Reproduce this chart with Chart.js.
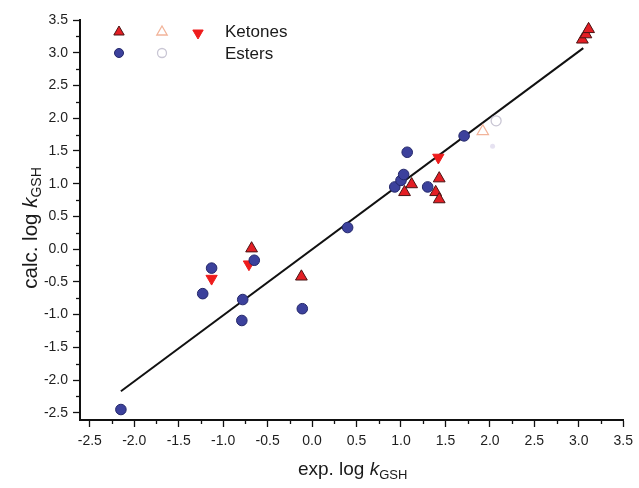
<!DOCTYPE html>
<html>
<head>
<meta charset="utf-8">
<script src="https://cdn.jsdelivr.net/npm/chart.js@4/dist/chart.umd.min.js"></script>
<style>
html,body{margin:0;padding:0;background:#fff;}
#wrap{width:639px;height:488px;position:relative;}
</style>
</head>
<body>
<div id="wrap"><canvas id="c" width="639" height="488"></canvas></div>
<script>
// ---- data ----
const ketX   = [-0.68, -0.12, 1.04, 1.12, 1.43, 1.39, 1.43, 3.04, 3.08, 3.11];
const ketY   = [ 0.01, -0.42, 0.87, 0.99, 1.08, 0.87, 0.76, 3.20, 3.28, 3.36];
const ketOpenX = [1.92];
const ketOpenY = [1.80];
const ketDownX = [-1.13, -0.71, 1.42];
const ketDownY = [-0.45, -0.23, 1.40];
const estX   = [-2.15, -1.23, -1.13, -0.78, -0.79, -0.65, -0.11, 0.40, 0.93, 1.00, 1.03, 1.07, 1.30, 1.71];
const estY   = [-2.45, -0.68, -0.29, -0.77, -1.09, -0.17, -0.91, 0.33, 0.95, 1.05, 1.14, 1.48, 0.95, 1.73];
const estOpenX = [2.07];
const estOpenY = [1.96];
const faintX = [2.03];
const faintY = [1.57];
const fitX = [-2.15, 3.05];
const fitY = [-2.17, 3.07];
const tickValues = [-2.5, -2.0, -1.5, -1.0, -0.5, 0.0, 0.5, 1.0, 1.5, 2.0, 2.5, 3.0, 3.5];
const legendLabels = ['Ketones', 'Esters'];

const pts = (xs, ys) => xs.map((x, i) => ({x: x, y: ys[i]}));
const FONT = "'Liberation Sans', Arial, sans-serif";

const datasets = [
  {label:'fit', type:'line', data:pts(fitX, fitY), borderColor:'#111', borderWidth:2, pointRadius:0, fill:false, order:5},
  {label:'Esters', data:pts(estX, estY), pointStyle:'circle', pointRadius:5.3, backgroundColor:'#3c419c', borderColor:'#23276a', borderWidth:1},
  {label:'Esters open', data:pts(estOpenX, estOpenY), pointStyle:'circle', pointRadius:5, backgroundColor:'rgba(255,255,255,0)', borderColor:'#c9c6d4', borderWidth:1.3},
  {label:'faint', data:pts(faintX, faintY), pointStyle:'circle', pointRadius:2.5, backgroundColor:'rgba(200,190,225,0.45)', borderColor:'rgba(200,190,225,0)', borderWidth:0},
  {label:'Ketones', data:pts(ketX, ketY), pointStyle:'triangle', pointRadius:6.8, backgroundColor:'#e31e24', borderColor:'#4a1414', borderWidth:1},
  {label:'Ketones open', data:pts(ketOpenX, ketOpenY), pointStyle:'triangle', pointRadius:6.5, backgroundColor:'rgba(255,255,255,0)', borderColor:'#f2b49a', borderWidth:1.3},
  {label:'Ketones down', data:pts(ketDownX, ketDownY), pointStyle:'triangle', rotation:180, pointRotation:180, pointRadius:6.5, backgroundColor:'#ee1c1c', borderColor:'#ee1c1c', borderWidth:1}
];

const setTicks = (scale) => { scale.ticks = tickValues.map(v => ({value: v})); };

// minor ticks (midway between major ticks), drawn through the scales
const minorTicks = {
  id: 'minorTicks',
  afterDraw(chart) {
    const ctx = chart.ctx, xs = chart.scales.x, ys = chart.scales.y, a = chart.chartArea;
    ctx.save();
    ctx.strokeStyle = '#111'; ctx.lineWidth = 1.3;
    for (let i = 0; i < tickValues.length - 1; i++) {
      const m = (tickValues[i] + tickValues[i+1]) / 2;
      const px = Math.round(xs.getPixelForValue(m)) + 0.5;
      ctx.beginPath(); ctx.moveTo(px, a.bottom); ctx.lineTo(px, a.bottom + 4); ctx.stroke();
      const py = Math.round(ys.getPixelForValue(m)) + 0.5;
      ctx.beginPath(); ctx.moveTo(a.left, py); ctx.lineTo(a.left - 4, py); ctx.stroke();
    }
    ctx.restore();
  }
};

// axis titles with italic k and subscript GSH
function drawTitle(ctx, parts, cx, cy) {
  let w = 0;
  parts.forEach(p => { ctx.font = p.font; p.w = ctx.measureText(p.t).width; w += p.w; });
  let x = cx - w / 2;
  parts.forEach(p => { ctx.font = p.font; ctx.fillText(p.t, x, cy + (p.dy || 0)); x += p.w; });
}
const titles = {
  id: 'titles',
  afterDraw(chart) {
    const ctx = chart.ctx, a = chart.chartArea;
    ctx.save();
    ctx.fillStyle = '#1a1a1a'; ctx.textBaseline = 'alphabetic'; ctx.textAlign = 'left';
    const mk = (pre, f, fs) => [
      {t: pre + ' log ', font: f + 'px ' + FONT},
      {t: 'k', font: 'italic ' + f + 'px ' + FONT},
      {t: 'GSH', font: fs + 'px ' + FONT, dy: 4}
    ];
    drawTitle(ctx, mk('exp.', 19, 13), (a.left + a.right) / 2 + 1, 475);
    ctx.translate(37, (a.top + a.bottom) / 2 + 8);
    ctx.rotate(-Math.PI / 2);
    drawTitle(ctx, mk('calc.', 20.5, 14), 0, 0);
    ctx.restore();
  }
};

// custom two-row legend using the datasets' own point styles
const legend2 = {
  id: 'legend2',
  afterDraw(chart) {
    const ctx = chart.ctx, ds = chart.data.datasets;
    const byLabel = l => ds.find(d => d.label === l);
    const draw = (d, x, y, r) => {
      ctx.save();
      ctx.fillStyle = d.backgroundColor; ctx.strokeStyle = d.borderColor; ctx.lineWidth = d.borderWidth;
      Chart.helpers.drawPoint(ctx, {
        pointStyle: d.pointStyle, rotation: d.pointRotation || 0, radius: r,
        borderWidth: d.borderWidth
      }, x, y);
      ctx.restore();
    };
    draw(byLabel('Ketones'), 119, 32, 6);
    draw(byLabel('Ketones open'), 162, 32, 6);
    draw(byLabel('Ketones down'), 198, 33, 6);
    draw(byLabel('Esters'), 119, 53, 4.5);
    draw(byLabel('Esters open'), 162, 53, 4.5);
    ctx.save();
    ctx.fillStyle = '#1a1a1a'; ctx.font = '17px ' + FONT; ctx.textBaseline = 'middle';
    ctx.fillText(legendLabels[0], 225, 32);
    ctx.fillText(legendLabels[1], 225, 54);
    ctx.restore();
  }
};

new Chart(document.getElementById('c'), {
  type: 'scatter',
  data: {datasets: datasets},
  options: {
    responsive: false,
    animation: false,
    events: [],
    layout: {padding: {left: 0, top: 20, right: 14, bottom: 0}},
    plugins: {legend: {display: false}, tooltip: {enabled: false}},
    scales: {
      x: {
        type: 'linear', min: -2.61, max: 3.5,
        afterBuildTicks: setTicks,
        afterFit: s => { s.height = 68; },
        grid: {drawOnChartArea: false, drawTicks: true, tickLength: 7, color: '#111', tickWidth: 1.3},
        border: {display: true, color: '#111', width: 2},
        ticks: {color: '#1e1e1e', font: {family: FONT, size: 14}, padding: 6,
                callback: v => v.toFixed(1), maxRotation: 0, autoSkip: false}
      },
      y: {
        type: 'linear', min: -2.61, max: 3.5,
        afterBuildTicks: setTicks,
        afterFit: s => { s.width = 80; },
        grid: {drawOnChartArea: false, drawTicks: true, tickLength: 7, color: '#111', tickWidth: 1.3},
        border: {display: true, color: '#111', width: 2},
        ticks: {color: '#1e1e1e', font: {family: FONT, size: 14}, padding: 5,
                callback: v => v.toFixed(1), autoSkip: false}
      }
    }
  },
  plugins: [minorTicks, titles, legend2]
});
</script>
</body>
</html>
